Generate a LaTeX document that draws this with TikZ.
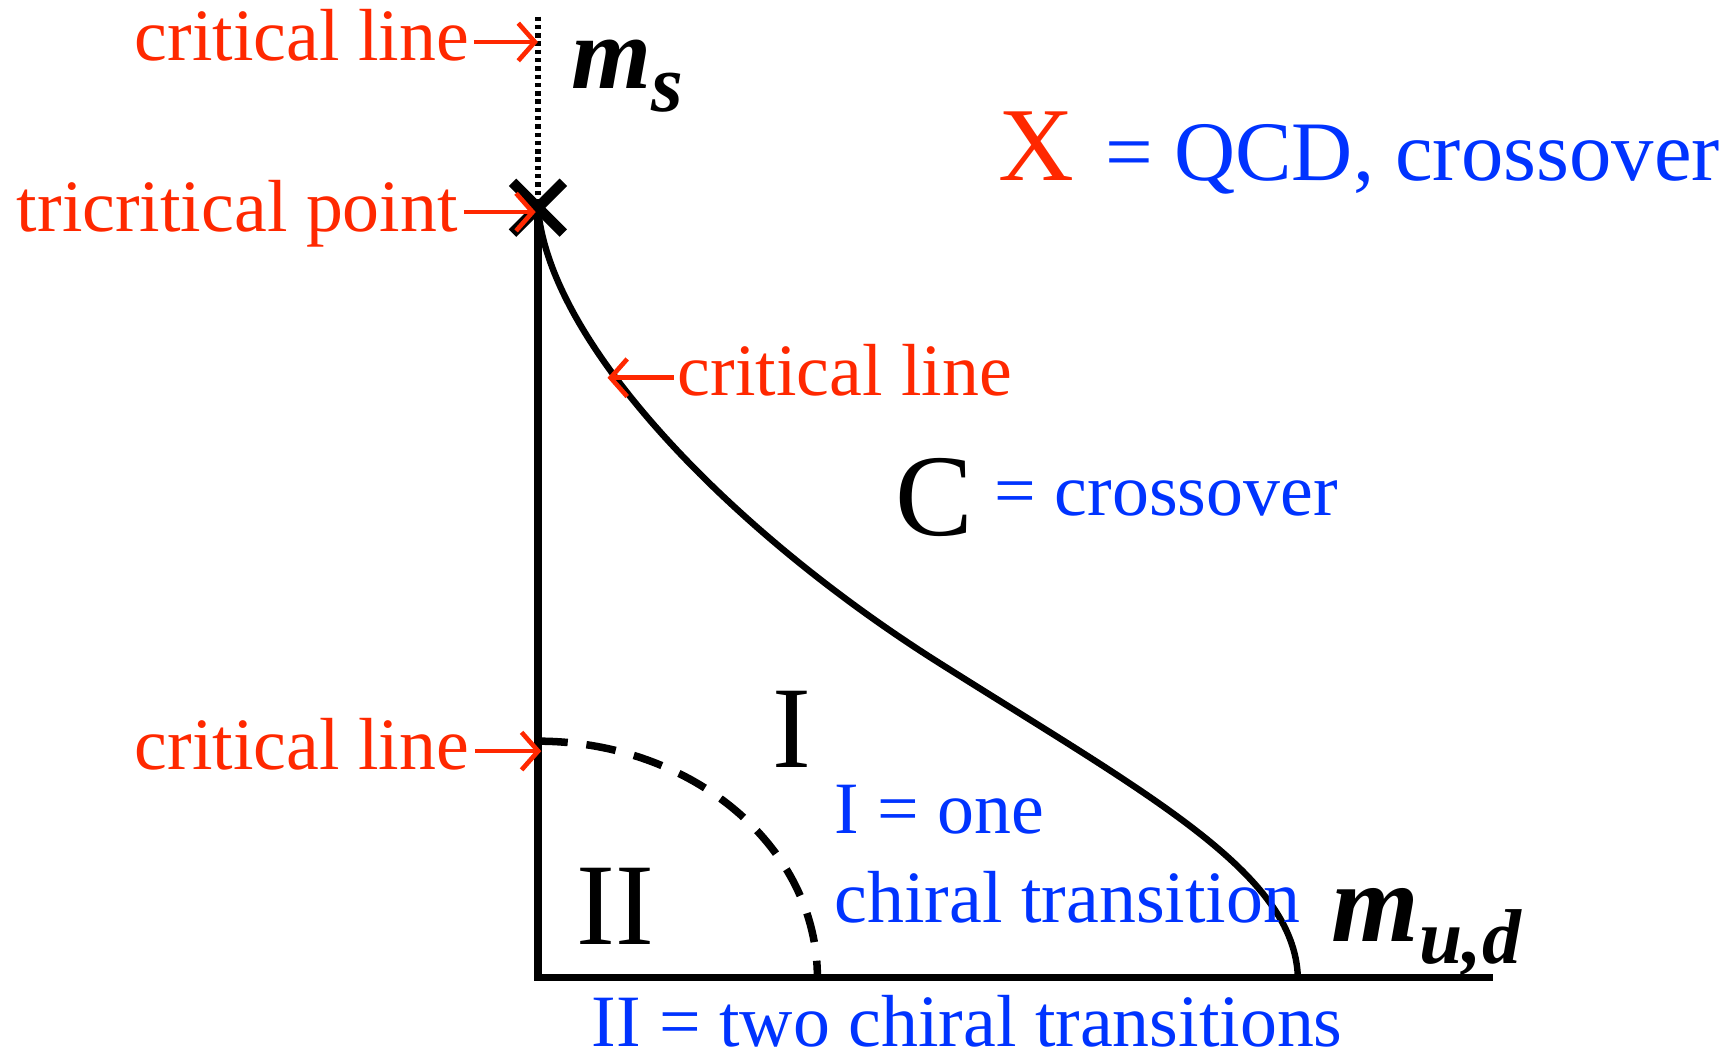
\documentclass[tikz,border=0pt]{standalone}
\usepackage{fontspec}
\setmainfont{Liberation Serif}
\usetikzlibrary{arrows.meta}
\definecolor{lblred}{RGB}{255,40,0}
\definecolor{lblblue}{RGB}{0,51,255}
\begin{document}
\begin{tikzpicture}[x=0.01cm,y=-0.01cm,
  redlbl/.style={text=lblred,inner sep=0pt,font=\fontsize{19}{22}\selectfont},
  bluelbl/.style={text=lblblue,inner sep=0pt,font=\fontsize{19}{22}\selectfont},
  bigblue/.style={text=lblblue,inner sep=0pt,font=\fontsize{21.8}{25}\selectfont},
  bigred/.style={text=lblred,inner sep=0pt,font=\fontsize{27}{30}\selectfont},
  region/.style={inner sep=0pt,font=\fontsize{30}{34}\selectfont},
  axislbl/.style={inner sep=0pt,font=\fontsize{#1}{#1}\selectfont\bfseries\itshape},
  redarrow/.style={draw=lblred,line width=0.042cm,-{Straight Barb[length=0.15cm,width=0.34cm]}},
  axisline/.style={line width=0.065cm},
  curveline/.style={line width=0.058cm},
  dotline/.style={line width=0.055cm,dash pattern=on 0.04cm off 0.035cm},
  dashline/.style={line width=0.068cm,dash pattern=on 0.27cm off 0.17cm},
  xmark/.style={line width=0.095cm},
]
\useasboundingbox (0,0) rectangle (1568,958);

% axes
\coordinate (top) at (487,15);
\coordinate (tri) at (487,188);
\coordinate (origin) at (487,885);
\coordinate (xend) at (1352,885);
\draw[dotline] (top) -- (tri);
\draw[axisline] (tri) -- (origin) -- (xend);

% tricritical point mark
\draw[xmark] ([shift={(-23,-23)}]tri) -- ([shift={(23,23)}]tri);
\draw[xmark] ([shift={(-23,23)}]tri) -- ([shift={(23,-23)}]tri);

% crossover (critical) line
\coordinate (crossMid) at (850,600);
\coordinate (crossEnd) at (1175,885);
\draw[curveline] (tri) .. controls (497,310) and (660,480) .. (crossMid)
                       .. controls (1040,720) and (1172,790) .. (crossEnd);

% dashed line
\coordinate (dashStart) at (487,671);
\coordinate (dashEnd) at (740,885);
\draw[dashline] (dashStart) .. controls (626.7,671) and (740,766.8) .. (dashEnd);

% axis labels
\node[axislbl=26.5,anchor=base west] (ms) at (517,80) {m\raisebox{-0.22em}{\fontsize{21}{21}\selectfont s}};
\node[axislbl=29,anchor=base west] (mud) at (1205,852) {m\raisebox{-0.2em}{\fontsize{20}{20}\selectfont u,d}};

% red annotations
\node[redlbl,anchor=base east] (lblTop) at (425,55) {critical line};
\node[redlbl,anchor=base east] (lblTri) at (415,210) {tricritical point};
\node[redlbl,anchor=base east] (lblLow) at (425,697) {critical line};
\node[redlbl,anchor=base west] (lblMid) at (613,358) {critical line};
\coordinate (tipTop) at (487,38);
\coordinate (tipTri) at (485,192);
\coordinate (tipLow) at (490,680);
\coordinate (tipMid) at (550,342);
\draw[redarrow] ([shift={(4,-17)}]lblTop.base east) -- (tipTop);
\draw[redarrow] ([shift={(5,-18)}]lblTri.base east) -- (tipTri);
\draw[redarrow] ([shift={(5,-17)}]lblLow.base east) -- (tipLow);
\draw[redarrow] ([shift={(-3,-16)}]lblMid.base west) -- (tipMid);

% legend
\node[bigred,anchor=base west] (xsym) at (903,163) {X};
\node[bigblue,anchor=base west] (defX) at (1000,163) {= QCD, crossover};

% regions
\node[region,anchor=base west] (regC) at (810,485) {C};
\node[bluelbl,anchor=base west] (defC) at (900,467) {= crossover};
\node[region,anchor=base west] (regI) at (699,695) {I};
\node[bluelbl,anchor=base west] (defI) at (755,755) {I = one};
\node[bluelbl,anchor=base west] (defIb) at (755,835) {chiral transition};
\node[region,anchor=base west] (regII) at (521,855) {II};
\node[bluelbl,anchor=base west] (defII) at (535,947) {II = two chiral transitions};
\end{tikzpicture}
\end{document}
